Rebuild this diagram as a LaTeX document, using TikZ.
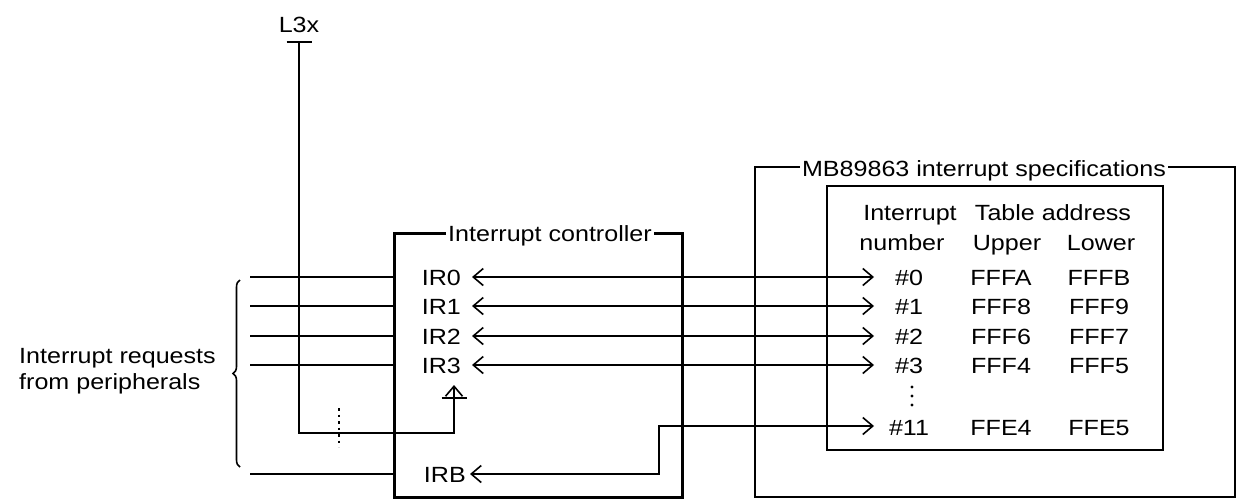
\documentclass[tikz,border=0pt]{standalone}
\usepackage{fontspec}
\setmainfont{Liberation Sans}[FakeStretch=1.14]
\usetikzlibrary{arrows.meta,decorations.pathreplacing}
\begin{document}
\begin{tikzpicture}[x=1pt,y=-1pt,
  font=\fontsize{22}{26}\selectfont,
  conn/.style={line width=2pt},
  barb/.tip={Straight Barb[length=10pt,width=17pt,line width=1.6pt]},
  dbl/.style={conn,barb-barb},
  lbl/.style={inner sep=0pt,anchor=base},
  ctrlbox/.style={line width=3pt},
  specbox/.style={line width=2.5pt},
  dots/.style={line width=2.4pt,dash pattern=on 2.5pt off 4pt}]
\useasboundingbox (0,0) rectangle (1238,499);

% ---- Interrupt controller box
\draw[ctrlbox] (394,233) rectangle (682,497);
\node[lbl,fill=white,inner xsep=2pt,inner ysep=3pt] (ctitle) at (550,241) {Interrupt controller};

% ---- spec boxes
\draw[specbox] (755,167) rectangle (1235,497);
\node[lbl,fill=white,inner xsep=2pt,inner ysep=3pt] (stitle) at (984,176) {MB89863 interrupt specifications};
\draw[specbox] (827,186) rectangle (1163,450);

% ---- table
\node[lbl] (h1a) at (910,220) {Interrupt};
\node[lbl] (h1b) at (1053,220) {Table address};
\node[lbl] (h2a) at (902,250) {number};
\node[lbl] (h2b) at (1007,250) {Upper};
\node[lbl] (h2c) at (1101,250) {Lower};
\foreach \y/\n/\u/\l [count=\i] in {285/\#0/FFFA/FFFB,314/\#1/FFF8/FFF9,344/\#2/FFF6/FFF7,373/\#3/FFF4/FFF5,435/\#11/FFE4/FFE5}{
  \node[lbl] (num\i) at (909,\y) {\n};
  \node[lbl] (up\i) at (1001,\y) {\u};
  \node[lbl] (lo\i) at (1099,\y) {\l};
}
\draw[line width=3.4pt,dash pattern=on 0pt off 9pt,line cap=round] (912,387) -- (912,408);

% ---- IR labels and bidirectional arrows
\foreach \y/\t/\k in {277/IR0/0,306/IR1/1,336/IR2/2,365/IR3/3}{
  \node[lbl,anchor=base east] (ir\k) at (461,\y+8) {\t};
  \coordinate (irt\k) at (472,\y);
  \coordinate (nt\k) at (874,\y);
  \draw[dbl] (irt\k) -- (nt\k);
  \coordinate (in\k) at (250,\y);
  \coordinate (inb\k) at (394,\y);
  \draw[conn] (in\k) -- (inb\k);
}
\node[lbl,anchor=base east] (irb) at (466,482) {IRB};
\coordinate (irbt) at (470,474);
\coordinate (jog1) at (659,474);
\coordinate (jog2) at (659,426);
\coordinate (n11t) at (874,426);
\draw[conn,barb-barb] (irbt) -- (jog1) -- (jog2) -- (n11t);
\coordinate (inB) at (250,474);
\coordinate (inbB) at (394,474);
\draw[conn] (inB) -- (inbB);

% ---- L3x line
\node[lbl] (l3x) at (299,32) {L3x};
\coordinate (l3top) at (299,41);
\coordinate (l3c1) at (299,433);
\coordinate (l3c2) at (454,433);
\coordinate (ir3in) at (454,385);
\draw[conn,{Bar[width=25pt,line width=2pt]}-{Bar[width=25pt,line width=2pt]barb}] (l3top) -- (l3c1) -- (l3c2) -- (ir3in);

% ---- dotted line
\draw[dots] (339,408) -- (339,447);

% ---- brace and text
\draw[line width=1.6pt,decorate,decoration={brace,amplitude=7pt}] (240,467) -- (240,280);
\node[align=left,inner sep=0pt,anchor=west] (req) at (19,371) {Interrupt requests\\from peripherals};
\end{tikzpicture}
\end{document}
